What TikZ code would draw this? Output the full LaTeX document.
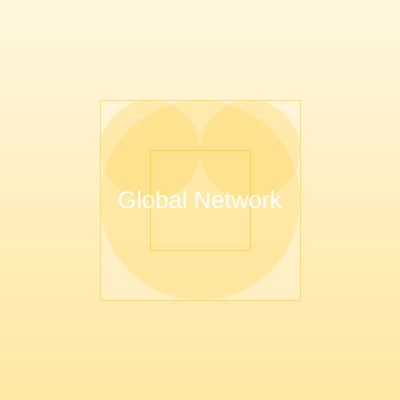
\documentclass[tikz,border=0pt]{standalone}
\usepackage{fontspec}
\setmainfont{Liberation Sans}
\definecolor{bgtop}{RGB}{255,246,222}
\definecolor{bgbottom}{RGB}{255,232,163}
\definecolor{amberfill}{RGB}{255,213,79}
\definecolor{amberline}{RGB}{255,206,60}
\begin{document}
\begin{tikzpicture}[x=1pt,y=1pt,yscale=-1,xscale=1]
\useasboundingbox (0,0) rectangle (400,400);

%Shape: Background
\shade [top color=bgtop, bottom color=bgbottom] (0,0) rectangle (400,400);
%Shape: Outer Square
\draw [color=amberline, draw opacity=0.6, fill=white, fill opacity=0.2, line width=1] (100,100) rectangle (300,300);
%Shape: Big Circle
\fill [color=amberfill, fill opacity=0.3] (200,200) circle (100);
%Shape: Left Circle
\fill [color=amberfill, fill opacity=0.3] (150,150) circle (50);
%Shape: Right Circle
\fill [color=amberfill, fill opacity=0.3] (250,150) circle (50);
%Shape: Inner Square
\draw [color=amberline, draw opacity=0.8, line width=1] (150,150) rectangle (250,250);

% Text Node
\node (label) at (200,200) [inner sep=0.75pt, text=white, font=\fontsize{24}{28}\selectfont] {Global Network};

\end{tikzpicture}
\end{document}
